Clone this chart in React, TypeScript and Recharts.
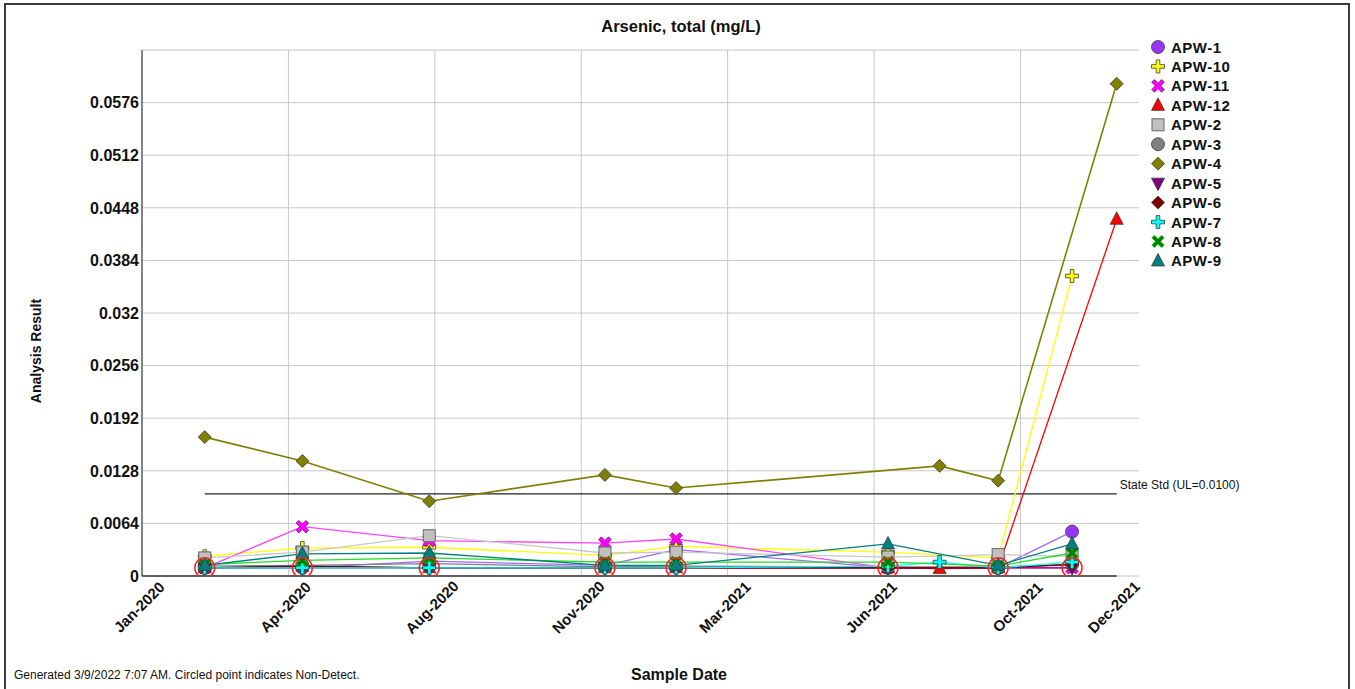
import React from 'react';
import { ComposedChart, Line, Scatter, XAxis, YAxis, CartesianGrid, ReferenceLine } from 'recharts';

// ---------- data ----------
const sampleDates = [
  '2020-02-29', '2020-05-09', '2020-08-08', '2020-12-12', '2021-02-01',
  '2021-07-03', '2021-08-09', '2021-09-20', '2021-11-12', '2021-12-14',
];

const xDomainDates = ['2020-01-15', '2021-12-30'];
const xTickDates = ['2020-01-15', '2020-04-29', '2020-08-12', '2020-11-25', '2021-03-10', '2021-06-23', '2021-10-06', '2021-12-14'];
const xTickLabels = ['Jan-2020', 'Apr-2020', 'Aug-2020', 'Nov-2020', 'Mar-2021', 'Jun-2021', 'Oct-2021', 'Dec-2021'];
const xGridDates = ['2020-04-29', '2020-08-12', '2020-11-25', '2021-03-10', '2021-06-23', '2021-10-06'];

const yTicks = [0, 0.0064, 0.0128, 0.0192, 0.0256, 0.032, 0.0384, 0.0448, 0.0512, 0.0576];
const yMax = 0.064;

const stateStd = 0.01;
const stateStdLabel = 'State Std (UL=0.0100)';

const apw1 = [0.001, 0.001, 0.0018, 0.0013, 0.0032, 0.001, null, 0.001, 0.0054, null];
const apw10 = [0.0024, 0.0034, 0.0035, 0.0025, 0.0036, 0.0029, null, 0.0022, 0.0365, null];
const apw11 = [0.001, 0.006, 0.0043, 0.004, 0.0045, 0.001, null, 0.001, 0.001, null];
const apw12 = [0.001, 0.0012, 0.001, 0.001, 0.001, 0.001, 0.0009, 0.001, null, 0.0434];
const apw2 = [0.0022, 0.0029, 0.0049, 0.0028, 0.0029, 0.0023, null, 0.0026, 0.0024, null];
const apw3 = [0.0012, 0.0013, 0.0015, 0.0011, 0.0012, 0.0011, null, 0.0011, 0.0014, null];
const apw4 = [0.0169, 0.014, 0.0091, 0.0123, 0.0107, null, 0.0134, 0.0116, null, 0.0599];
const apw5 = [0.001, 0.001, 0.001, 0.001, 0.001, 0.001, null, 0.001, 0.001, null];
const apw6 = [0.001, 0.0012, 0.001, 0.001, 0.001, 0.001, null, 0.001, 0.0014, null];
const apw7 = [0.001, 0.001, 0.001, 0.001, 0.001, 0.0012, 0.0017, 0.001, 0.0017, null];
const apw8 = [0.0014, 0.0019, 0.0022, 0.0017, 0.0017, 0.0017, null, 0.0012, 0.0028, null];
const apw9 = [0.0013, 0.0027, 0.0028, 0.0013, 0.0013, 0.0039, null, 0.0013, 0.0039, null];

// non-detect points: index into sampleDates, value
const nonDetectIdx = [0, 1, 2, 3, 4, 5, 7, 8];
const nonDetectVal = [0.001, 0.001, 0.001, 0.001, 0.001, 0.001, 0.001, 0.001];

type MarkerKind = 'circle' | 'plus' | 'x' | 'triUp' | 'square' | 'diamond' | 'triDown';

const series: { name: string; values: (number | null)[]; color: string; line: string; marker: MarkerKind }[] = [
  { name: 'APW-1', values: apw1, color: '#9933FF', line: '#A366FF', marker: 'circle' },
  { name: 'APW-10', values: apw10, color: '#FFFF00', line: '#FFFF00', marker: 'plus' },
  { name: 'APW-11', values: apw11, color: '#FF00FF', line: '#FF44FF', marker: 'x' },
  { name: 'APW-12', values: apw12, color: '#FF0000', line: '#FF0000', marker: 'triUp' },
  { name: 'APW-2', values: apw2, color: '#C0C0C0', line: '#C8C8C8', marker: 'square' },
  { name: 'APW-3', values: apw3, color: '#808080', line: '#808080', marker: 'circle' },
  { name: 'APW-4', values: apw4, color: '#808000', line: '#808000', marker: 'diamond' },
  { name: 'APW-5', values: apw5, color: '#800080', line: '#800080', marker: 'triDown' },
  { name: 'APW-6', values: apw6, color: '#800000', line: '#800000', marker: 'diamond' },
  { name: 'APW-7', values: apw7, color: '#00FFFF', line: '#00FFFF', marker: 'plus' },
  { name: 'APW-8', values: apw8, color: '#008000', line: '#22DD22', marker: 'x' },
  { name: 'APW-9', values: apw9, color: '#008080', line: '#008080', marker: 'triUp' },
];

// ---------- helpers ----------
const toDay = (s: string) => {
  const [y, m, d] = s.split('-').map(Number);
  return Date.UTC(y, m - 1, d) / 86400000;
};

const xMin = toDay(xDomainDates[0]);
const xMax = toDay(xDomainDates[1]);
const xTicks = xTickDates.map(toDay);
const FONT = '"Liberation Sans", Arial, sans-serif';

const Marker = ({ kind, cx, cy, color }: { kind: MarkerKind; cx: number; cy: number; color: string }) => {
  const edge = '#3a3a3a';
  const sw = 0.8;
  switch (kind) {
    case 'circle':
      return <circle cx={cx} cy={cy} r={6.5} fill={color} stroke={edge} strokeWidth={sw} />;
    case 'square':
      return <rect x={cx - 6} y={cy - 6} width={12} height={12} fill={color} stroke="#666" strokeWidth={1} />;
    case 'diamond':
      return (
        <polygon
          points={`${cx},${cy - 6.5} ${cx + 6.5},${cy} ${cx},${cy + 6.5} ${cx - 6.5},${cy}`}
          fill={color}
          stroke={edge}
          strokeWidth={sw}
        />
      );
    case 'triUp':
      return (
        <polygon
          points={`${cx},${cy - 7.5} ${cx + 6.5},${cy + 5} ${cx - 6.5},${cy + 5}`}
          fill={color}
          stroke={edge}
          strokeWidth={sw}
        />
      );
    case 'triDown':
      return (
        <polygon
          points={`${cx},${cy + 7.5} ${cx + 6.5},${cy - 5} ${cx - 6.5},${cy - 5}`}
          fill={color}
          stroke={edge}
          strokeWidth={sw}
        />
      );
    case 'plus': {
      const a = 1.8;
      const l = 6.5;
      const pts = [
        [-a, -l], [a, -l], [a, -a], [l, -a], [l, a], [a, a], [a, l], [-a, l], [-a, a], [-l, a], [-l, -a], [-a, -a],
      ]
        .map(([px, py]) => `${cx + px},${cy + py}`)
        .join(' ');
      return <polygon points={pts} fill={color} stroke={edge} strokeWidth={sw} />;
    }
    case 'x': {
      const a = 1.9;
      const l = 7;
      const base = [
        [-a, -l], [a, -l], [a, -a], [l, -a], [l, a], [a, a], [a, l], [-a, l], [-a, a], [-l, a], [-l, -a], [-a, -a],
      ];
      const c = Math.SQRT1_2;
      const pts = base
        .map(([px, py]) => `${cx + (px - py) * c},${cy + (px + py) * c}`)
        .join(' ');
      return <polygon points={pts} fill={color} stroke={color === '#008000' ? '#22DD22' : '#6a006a'} strokeWidth={0.7} />;
    }
    default:
      return null;
  }
};

const XTick = (props: any) => {
  const { x, y, payload } = props;
  const i = xTicks.indexOf(payload.value);
  const label = i >= 0 ? xTickLabels[i] : '';
  const cx = x - 3;
  const cy = y + 31;
  return (
    <text
      x={cx}
      y={cy}
      transform={`rotate(-45 ${cx} ${cy})`}
      textAnchor="middle"
      dominantBaseline="central"
      fontFamily={FONT}
      fontSize={15}
      fontWeight="bold"
      fill="#111"
    >
      {label}
    </text>
  );
};

const YTick = (props: any) => {
  const { x, y, payload } = props;
  return (
    <text x={x} y={y} dy="0.36em" textAnchor="end" fontFamily={FONT} fontSize={16} fontWeight="bold" fill="#111">
      {String(payload.value)}
    </text>
  );
};

export default function App() {
  const ndPoints = nonDetectIdx.map((di, k) => ({ x: toDay(sampleDates[di]), y: nonDetectVal[k] }));
  const firstDate = toDay(sampleDates[0]);
  const lastDate = toDay(sampleDates[sampleDates.length - 1]);

  return (
    <div style={{ position: 'absolute', left: 0, top: 0, width: 1355, height: 689, background: '#fff', overflow: 'hidden' }}>
      <div
        style={{
          position: 'absolute',
          left: 4,
          top: 3,
          width: 1346,
          height: 700,
          border: '2px solid #3c3c3c',
          boxSizing: 'border-box',
        }}
      />
      <div style={{ position: 'absolute', left: 0, top: 0 }}>
        <ComposedChart width={1355} height={689} margin={{ top: 50, right: 216, bottom: 83, left: 82 }}>
          <CartesianGrid vertical={false} stroke="#c8c8c8" />
          <XAxis
            type="number"
            dataKey="x"
            domain={[xMin, xMax]}
            ticks={xTicks}
            interval={0}
            allowDataOverflow
            axisLine={false}
            tickLine={false}
            tickSize={0}
            tickMargin={0}
            height={30}
            tick={<XTick />}
          />
          <YAxis
            type="number"
            dataKey="y"
            domain={[0, yMax]}
            ticks={yTicks}
            interval={0}
            allowDataOverflow
            width={60}
            axisLine={{ stroke: '#333', strokeWidth: 1.2 }}
            tickLine={false}
            tickSize={3}
            tickMargin={0}
            tick={<YTick />}
          />
          {xGridDates.map((d) => (
            <ReferenceLine key={d} x={toDay(d)} stroke="#c8c8c8" strokeWidth={1} />
          ))}
          <ReferenceLine
            segment={[
              { x: xMin, y: 0 },
              { x: lastDate, y: 0 },
            ]}
            stroke="#333"
            strokeWidth={1.4}
          />
          <ReferenceLine
            segment={[
              { x: firstDate, y: stateStd },
              { x: lastDate, y: stateStd },
            ]}
            stroke="#222"
            strokeWidth={1.2}
            label={(p: any) => {
              const vb = p.viewBox || {};
              return (
                <text x={(vb.x || 0) + (vb.width || 0) + 3} y={(vb.y || 0) - 5} fontFamily={FONT} fontSize={12} fill="#111">
                  {stateStdLabel}
                </text>
              );
            }}
          />
          {series.map((s) => {
            const pts = s.values
              .map((v, i) => (v == null ? null : { x: toDay(sampleDates[i]), y: v }))
              .filter((p) => p !== null) as { x: number; y: number }[];
            return (
              <Line
                key={s.name}
                name={s.name}
                data={pts}
                dataKey="y"
                type="linear"
                stroke={s.line}
                strokeWidth={s.name === 'APW-4' ? 1.6 : 1.3}
                isAnimationActive={false}
                activeDot={false}
                dot={(p: any) => {
                  if (p.cx == null || p.cy == null) return <g key={`${s.name}-e-${p.index}`} />;
                  return (
                    <g key={`${s.name}-${p.index}`}>
                      <Marker kind={s.marker} cx={p.cx} cy={p.cy} color={s.color} />
                    </g>
                  );
                }}
              />
            );
          })}
          <Scatter
            name="Non-Detect"
            data={ndPoints}
            dataKey="y"
            isAnimationActive={false}
            shape={(p: any) => <circle cx={p.cx} cy={p.cy} r={10} fill="none" stroke="#FF2020" strokeWidth={1.5} />}
          />
        </ComposedChart>
      </div>

      <svg width={1355} height={689} style={{ position: 'absolute', left: 0, top: 0, pointerEvents: 'none' }}>
        <text x={681} y={32} textAnchor="middle" fontFamily={FONT} fontSize={16.5} fontWeight="bold" fill="#111">
          Arsenic, total (mg/L)
        </text>
        <text
          x={36}
          y={351}
          transform="rotate(-90 36 351)"
          textAnchor="middle"
          dominantBaseline="central"
          fontFamily={FONT}
          fontSize={14}
          fontWeight="bold"
          fill="#111"
        >
          Analysis Result
        </text>
        <text x={679} y={680} textAnchor="middle" fontFamily={FONT} fontSize={16} fontWeight="bold" fill="#111">
          Sample Date
        </text>
        <text x={14} y={679} fontFamily={FONT} fontSize={12} fill="#111">
          Generated 3/9/2022 7:07 AM. Circled point indicates Non-Detect.
        </text>
        {series.map((s, i) => {
          const cy = 47 + i * 19.45;
          return (
            <g key={s.name}>
              <Marker kind={s.marker} cx={1158} cy={cy} color={s.color} />
              <text
                x={1171}
                y={cy}
                dominantBaseline="central"
                fontFamily={FONT}
                fontSize={15}
                fontWeight="bold"
                letterSpacing={0.5}
                fill="#111"
              >
                {s.name}
              </text>
            </g>
          );
        })}
      </svg>
    </div>
  );
}
